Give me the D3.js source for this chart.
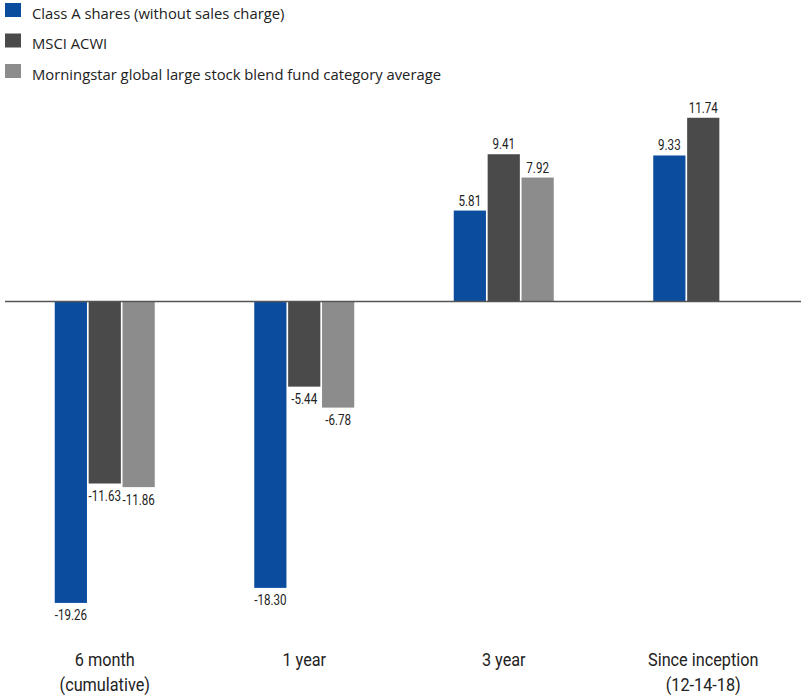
<!DOCTYPE html>
<html><head><meta charset="utf-8">
<script src="https://cdn.jsdelivr.net/npm/d3@7"></script>
<style>body{margin:0;background:#fff}svg{display:block}</style>
</head><body>
<svg id="c" width="801" height="695"></svg>
<script>
const categories = [["6 month","(cumulative)"],["1 year"],["3 year"],["Since inception","(12-14-18)"]];
const seriesNames = ["Class A shares (without sales charge)","MSCI ACWI","Morningstar global large stock blend fund category average"];
const seriesColors = ["#0b4c9f","#4a4a4a","#8c8c8c"];
const classA = [-19.26,-18.30,5.81,9.33];
const msci = [-11.63,-5.44,9.41,11.74];
const morningstar = [-11.86,-6.78,7.92,null];
const series = [classA, msci, morningstar];

const svg = d3.select("#c");
const numFont = "Roboto, 'Liberation Sans', sans-serif";
const x0 = d3.scaleBand().domain(d3.range(categories.length)).range([5,803]);
const x1 = d3.scaleBand().domain(d3.range(3)).range([49.75,149.75]).paddingInner(0.05);
const y = d3.scaleLinear().domain([-20,12]).range([614.5,113.7]);

// legend
const lg = svg.append("g");
seriesNames.forEach((n,i)=>{
  lg.append("rect").attr("x",5).attr("y",3+i*30.5).attr("width",16).attr("height",14).attr("fill",seriesColors[i]);
  lg.append("text").attr("x",32).attr("y",18.5+i*30.5).text(n)
    .attr("font-family","'Open Sans',sans-serif").attr("font-size",14.8).attr("fill","#222");
});

function condText(x, yy, txt, size, sx){
  return svg.append("text").attr("transform",`translate(${x},${yy}) scale(${sx},1)`)
    .attr("text-anchor","middle").attr("font-family",numFont).attr("font-size",size)
    .attr("fill","#222").text(txt);
}

// bars
series.forEach((vals,j)=>{
  vals.forEach((v,i)=>{
    if(v==null) return;
    const bx = x0(i)+x1(j);
    svg.append("rect").attr("x",bx).attr("width",x1.bandwidth())
      .attr("y",Math.min(y(v),y(0))).attr("height",Math.abs(y(v)-y(0)))
      .attr("fill",seriesColors[j]);
    condText(bx+x1.bandwidth()/2, v>=0 ? y(v)-5 : y(v)+17.5, v.toFixed(2), 14.5, 0.8);
  });
});

// zero line
svg.append("line").attr("x1",5).attr("x2",801).attr("y1",y(0)).attr("y2",y(0))
  .attr("stroke","#555").attr("stroke-width",1.5);

// category labels
categories.forEach((lines,i)=>{
  lines.forEach((l,k)=>condText(x0(i)+x0.bandwidth()/2, 666+k*24.5, l, 17.5, 0.93));
});
</script>
</body></html>
